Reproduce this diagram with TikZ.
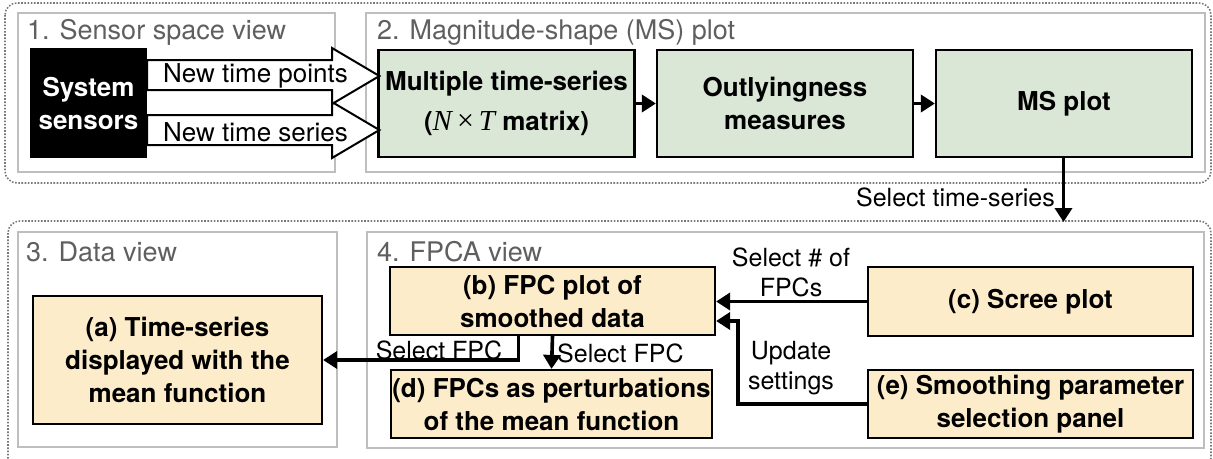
\documentclass[tikz,border=0pt]{standalone}
\usepackage{fontspec}
\setmainfont{TeX Gyre Heros}
\newfontfamily\varfont{Liberation Serif}
\usetikzlibrary{arrows.meta,calc}

\definecolor{msgreen}{RGB}{218,230,214}
\definecolor{fpcyellow}{RGB}{253,236,201}
\definecolor{panelgray}{RGB}{190,190,190}
\definecolor{titlegray}{RGB}{95,95,95}
\definecolor{dotgray}{RGB}{120,120,120}

% italic variable letters set in a Times-like serif
\newcommand{\var}[1]{{\varfont\itshape\mdseries\fontsize{29}{33}\selectfont #1}}
\newcommand{\bytimes}{\hspace{5pt}{\varfont\mdseries\fontsize{30}{33}\selectfont ×}\hspace{5pt}}

\tikzset{
  group/.style={draw=dotgray, line width=1.6pt, dash pattern=on 1.6pt off 1.6pt, rounded corners=12pt},
  panel/.style={draw=panelgray, line width=2.6pt, fill=white},
  title/.style={anchor=west, inner sep=0pt, text=titlegray, font=\fontsize{27}{30}\selectfont},
  box/.style={draw=black, line width=2.2pt, inner sep=0pt, align=center,
              font=\fontsize{26}{33}\selectfont\bfseries},
  msbox/.style={box, fill=msgreen, minimum width=256pt, minimum height=107pt},
  fpcbox/.style={box, fill=fpcyellow},
  conn/.style={line width=3.6pt, -{Triangle[length=14pt,width=17pt]}},
  lbl/.style={inner sep=0pt, align=center, font=\fontsize{25}{30}\selectfont},
  blockarrow/.style={draw=black, line width=2pt, fill=white, line join=miter},
}

\begin{document}
\begin{tikzpicture}[x=1pt,y=-1pt]
\useasboundingbox (0,0) rectangle (1213,458);

% dotted groups
\draw[group] (5,3) rectangle (1211,183);
\draw[group] (8,221) rectangle (1211,470);

% panels
\draw[panel] (18,13) rectangle (335,172);
\draw[panel] (366,13) rectangle (1205,172);
\draw[panel] (18,232) rectangle (337,447);
\draw[panel] (367,232) rectangle (1204,448);

\node[title] (t1) at (27,32) {1. Sensor space view};
\node[title] (t2) at (377,32) {2. Magnitude-shape (MS) plot};
\node[title] (t3) at (26,252) {3. Data view};
\node[title] (t4) at (377,252) {4. FPCA view};

% sensor source
\node[box, fill=black, text=white, minimum width=115pt, minimum height=108pt]
  (sys) at (88.5,103) {System\\sensors};

% MS plot pipeline
\node[msbox] (ms1) at (506.5,103.5)
  {Multiple time-series\\[7pt](\var{N}\bytimes\var{T} matrix)};
\node[msbox] (ms2) at (785,103.5) {Outlyingness\\measures};
\node[msbox] (ms3) at (1064,103.5) {MS plot};

% block arrows from the sensors into the time-series box
\coordinate (tipA) at ($(ms1.west)+(2,-27.5)$);
\coordinate (tipB) at ($(ms1.west)+(2,26.5)$);
\draw[blockarrow] (sys.east |- 0,115) -- (332,115) -- (332,102) -- (tipB)
  -- (332,158) -- (332,145) -- (sys.east |- 0,145) -- cycle;
\draw[blockarrow] (sys.east |- 0,60) -- (332,60) -- (332,48) -- (tipA)
  -- (332,104) -- (332,90) -- (sys.east |- 0,90) -- cycle;
\node[lbl, font=\fontsize{26}{30}\selectfont] (nt) at (255.5,76) {New time points};
\node[lbl, font=\fontsize{26}{30}\selectfont] (ns) at (255.5,132) {New time series};

\draw[conn] (ms1.east) -- (ms2.west);
\draw[conn] (ms2.east) -- (ms3.west);

\coordinate (selin) at (1063.5,222);
\draw[conn] (ms3.south -| selin) -- (selin);
\node[lbl, anchor=east] (lsel) at (1055,197) {Select time-series};

% FPCA and data views
\node[fpcbox, minimum width=289pt, minimum height=128pt] (a) at (177.5,360)
  {(a) Time-series\\displayed with the\\mean function};
\node[fpcbox, minimum width=325pt, minimum height=68pt] (b) at (552.5,301)
  {(b) FPC plot of\\smoothed data};
\node[fpcbox, minimum width=321pt, minimum height=68pt] (d) at (551.5,404)
  {(d) FPCs as perturbations\\of the mean function};
\node[fpcbox, minimum width=325pt, minimum height=69pt] (c) at (1030.5,301.5)
  {(c) Scree plot};
\node[fpcbox, minimum width=325pt, minimum height=68pt] (e) at (1030.5,404)
  {(e) Smoothing parameter\\selection panel};

\draw[conn] (c.west) -- (c.west -| b.east);
\coordinate (eb) at ($(b.east)+(0,20)$);
\draw[conn] (e.west) -| ($(eb)+(22,0)$) -- (eb);
\draw[conn] (b.south) -- (d.north);
\draw[conn] ($(b.south)+(-34,0)$) |- (a.east);

\node[lbl] (lc) at (791,272) {Select \# of\\FPCs};
\node[lbl] (le) at (791,368) {Update\\settings};
\node[lbl] (lb1) at (439,350) {Select FPC};
\node[lbl, anchor=west] (lb2) at (557,353) {Select FPC};
\end{tikzpicture}
\end{document}
